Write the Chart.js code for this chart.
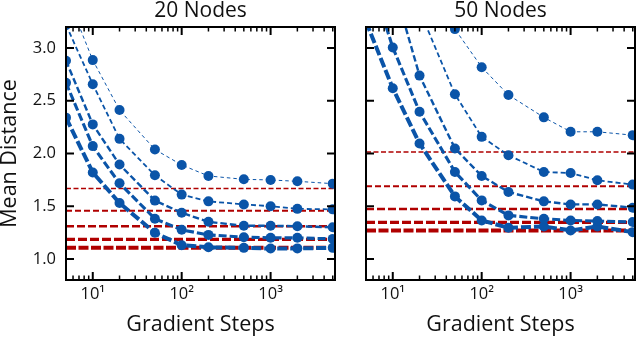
<!DOCTYPE html>
<html>
<head>
<meta charset="utf-8">
<script src="https://cdn.jsdelivr.net/npm/chart.js@4.4.1/dist/chart.umd.min.js"></script>
<style>
  html, body { margin: 0; padding: 0; background: #fff; }
  #wrap { position: relative; width: 640px; height: 339px; }
  canvas { position: absolute; top: 0; }
  #left { left: 0; }
  #right { left: 340px; }
</style>
</head>
<body>
<div id="wrap">
  <canvas id="left" width="340" height="339"></canvas>
  <canvas id="right" width="300" height="339"></canvas>
</div>
<script>
// gradient steps (x)
const xSteps = [5, 10, 20, 50, 100, 200, 500, 1000, 2000, 5000];
const X_MIN = 5, X_MAX = 5300;
const yTicks = [1.0, 1.5, 2.0, 2.5, 3.0];

// 20 nodes: mean distance per run (top = thinnest line)
const n20_a = [3.52, 2.886, 2.412, 2.038, 1.891, 1.787, 1.755, 1.749, 1.736, 1.714];
const n20_b = [3.22, 2.657, 2.139, 1.793, 1.610, 1.546, 1.517, 1.500, 1.475, 1.470];
const n20_c = [2.88, 2.276, 1.895, 1.553, 1.438, 1.352, 1.314, 1.314, 1.310, 1.300];
const n20_d = [2.67, 2.070, 1.717, 1.381, 1.276, 1.228, 1.206, 1.200, 1.200, 1.190];
const n20_e = [2.34, 1.820, 1.530, 1.248, 1.130, 1.110, 1.105, 1.098, 1.100, 1.105];
const ref20 = [1.667, 1.457, 1.310, 1.186, 1.107];

// 50 nodes
const n50_a = [4.60, 4.20, 3.70, 3.180, 2.819, 2.555, 2.343, 2.206, 2.206, 2.174];
const n50_b = [4.40, 3.90, 3.36, 2.562, 2.158, 1.984, 1.825, 1.815, 1.746, 1.705];
const n50_c = [4.30, 3.62, 2.739, 2.048, 1.787, 1.635, 1.546, 1.517, 1.517, 1.486];
const n50_d = [3.80, 3.006, 2.396, 1.825, 1.555, 1.413, 1.381, 1.365, 1.359, 1.350];
const n50_e = [3.25, 2.619, 2.095, 1.593, 1.365, 1.295, 1.308, 1.270, 1.308, 1.254];
const ref50 = [2.015, 1.689, 1.473, 1.346, 1.270];

const BLUE = '#0a54a8';
const RED = '#b00000';
const FONT = "'Open Sans', 'Noto Sans', sans-serif";
const blueWidths = [1, 1.8, 2.4, 3.1, 4];
const blueDash = [[3.5, 3], [5, 3], [6.5, 3], [8, 3], [10, 3]];
const redWidths = [1.5, 2, 2.6, 3.2, 4];
const redDash = [[5, 2.5], [6, 3], [8, 3], [9, 3], [10, 2.5]];

Chart.defaults.font.family = FONT;
Chart.defaults.color = '#111';

// black frame with inward ticks on all four sides
const frameTicks = {
  id: 'frameTicks',
  afterDraw(chart){
    const {ctx, chartArea: a, scales: {x, y}} = chart;
    ctx.save();
    ctx.strokeStyle = '#000';
    x.ticks.forEach(t=>{
      const v = t.value;
      const e = Math.floor(Math.log10(v) + 1e-9);
      const m = v / Math.pow(10, e);
      if(Math.abs(m - Math.round(m)) > 1e-6) return;
      const px = x.getPixelForValue(v);
      if(px <= a.left + 1 || px >= a.right - 1) return;
      const major = Math.abs(m - 1) < 1e-6;
      const len = major ? 8 : 4.5;
      ctx.lineWidth = major ? 2 : 1.5;
      ctx.beginPath();
      ctx.moveTo(px, a.bottom); ctx.lineTo(px, a.bottom - len);
      ctx.moveTo(px, a.top); ctx.lineTo(px, a.top + len);
      ctx.stroke();
    });
    ctx.lineWidth = 2;
    y.ticks.forEach(t=>{
      const py = y.getPixelForValue(t.value);
      ctx.beginPath();
      ctx.moveTo(a.left, py); ctx.lineTo(a.left + 8, py);
      ctx.moveTo(a.right, py); ctx.lineTo(a.right - 8, py);
      ctx.stroke();
    });
    ctx.lineWidth = 2;
    ctx.strokeRect(a.left, a.top, a.right - a.left, a.bottom - a.top);
    ctx.restore();
  }
};

function makePanel(id, title, series, refs, withYLabels){
  const datasets = [];
  series.forEach((vals, i)=>{
    datasets.push({
      data: xSteps.map((x, j)=>({x, y: vals[j]})),
      borderColor: BLUE, backgroundColor: BLUE,
      borderWidth: blueWidths[i], borderDash: blueDash[i],
      pointRadius: 5, pointHoverRadius: 5, pointBorderWidth: 0,
      pointBackgroundColor: BLUE, tension: 0, clip: 0
    });
  });
  refs.forEach((v, i)=>{
    datasets.push({
      data: [{x: X_MIN, y: v}, {x: X_MAX, y: v}],
      borderColor: RED, borderWidth: redWidths[i], borderDash: redDash[i],
      pointRadius: 0, tension: 0, clip: 0
    });
  });

  return new Chart(document.getElementById(id), {
    type: 'line',
    data: { datasets },
    options: {
      responsive: false, animation: false, devicePixelRatio: 1,
      layout: { padding: { left: 0, right: 1, top: 0, bottom: 0 } },
      plugins: {
        legend: { display: false }, tooltip: { enabled: false },
        title: { display: true, text: title, fullSize: false,
          font: { size: 21, weight: 'normal', lineHeight: 1 }, padding: { top: 1, bottom: 5 } }
      },
      scales: {
        x: {
          type: 'logarithmic', min: X_MIN, max: X_MAX,
          grid: { display: false, drawTicks: false }, border: { display: false },
          ticks: {
            autoSkip: false, maxRotation: 0, padding: 4, font: { size: 16.5 },
            callback: v=>{
              const e = Math.log10(v);
              if(Math.abs(e - Math.round(e)) > 1e-9) return '';
              return '10' + ['⁰','¹','²','³','⁴'][Math.round(e)];
            }
          },
          title: { display: true, text: 'Gradient Steps', font: { size: 21.5 }, padding: { top: 0, bottom: 1 } },
          afterFit: s=>{ s.height = 59; }
        },
        y: {
          type: 'linear', min: 0.8, max: 3.2,
          grid: { display: false, drawTicks: false }, border: { display: false },
          afterBuildTicks: s=>{ s.ticks = yTicks.map(v=>({value: v})); },
          ticks: { display: withYLabels, padding: 10, font: { size: 16.5 }, callback: v=>v.toFixed(1) },
          title: { display: withYLabels, text: 'Mean Distance', font: { size: 21.5, lineHeight: 1 }, padding: { top: -1, bottom: 0 } },
          afterFit: s=>{ s.width = withYLabels ? 66 : 26; }
        }
      }
    },
    plugins: [frameTicks]
  });
}

makePanel('left', '20 Nodes', [n20_a, n20_b, n20_c, n20_d, n20_e], ref20, true);
makePanel('right', '50 Nodes', [n50_a, n50_b, n50_c, n50_d, n50_e], ref50, false);
</script>
</body>
</html>
